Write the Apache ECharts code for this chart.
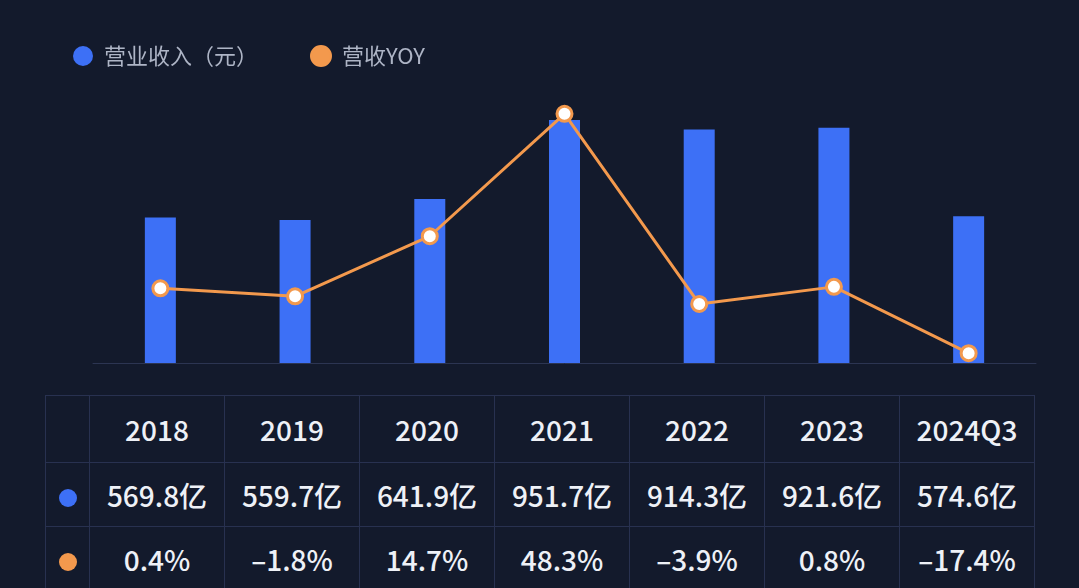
<!DOCTYPE html>
<html>
<head>
<meta charset="utf-8" />
<script src="https://cdn.jsdelivr.net/npm/echarts@6/dist/echarts.min.js"></script>
<style>
  body { margin: 0; background: #131a2c; width: 1079px; height: 588px; overflow: hidden; font-family: "Noto Sans CJK SC", "Noto Sans", sans-serif; }
  #main { position: absolute; left: 0; top: 0; width: 1079px; height: 392px; }
  #tbl { position: absolute; left: 45px; top: 395px; border-collapse: collapse; color: #eef1f7; font-size: 28px; font-weight: 500; }
  #tbl td { border: 1px solid #283150; text-align: center; padding: 0; }
  .dot { display: inline-block; width: 18px; height: 18px; border-radius: 9px; }
</style>
</head>
<body>
<div id="main"></div>
<table id="tbl"></table>
<script>
var years = ['2018', '2019', '2020', '2021', '2022', '2023', '2024Q3'];
var revenue = [569.8, 559.7, 641.9, 951.7, 914.3, 921.6, 574.6];
var yoy = [0.4, -1.8, 14.7, 48.3, -3.9, 0.8, -17.4];
var blue = '#3d70f6', orange = '#f3994d';

var chart = echarts.init(document.getElementById('main'));
chart.setOption({
  backgroundColor: '#131a2c',
  legend: {
    left: 68, top: 40, itemWidth: 20, itemHeight: 20, itemGap: 52, icon: 'circle',
    textStyle: { color: '#aeb5c6', fontSize: 22, fontFamily: 'Noto Sans CJK SC', padding: [0, 0, 0, 6] },
    data: [{ name: '营业收入（元）', itemStyle: { color: blue } }, { name: '营收YOY', itemStyle: { color: orange } }]
  },
  grid: { left: 93, right: 43, top: 100, bottom: 29 },
  xAxis: {
    type: 'category', data: years,
    axisLine: { lineStyle: { color: '#2c3552' } }, axisTick: { show: false }, axisLabel: { show: false }
  },
  yAxis: [
    { type: 'value', min: 0, max: 1030, show: false, splitLine: { show: false } },
    { type: 'value', min: -20.1, max: 52.1, show: false, splitLine: { show: false } }
  ],
  series: [
    { name: '营业收入（元）', type: 'bar', data: revenue, barWidth: 31, itemStyle: { color: blue } },
    { name: '营收YOY', type: 'line', yAxisIndex: 1, data: yoy, symbol: 'circle', symbolSize: 15,
      lineStyle: { color: orange, width: 3 }, itemStyle: { color: '#fff', borderColor: orange, borderWidth: 3 } }
  ]
});

var tbl = document.getElementById('tbl');
function row(cells, h, first) {
  var tr = document.createElement('tr');
  var td0 = document.createElement('td');
  td0.style.width = '43px'; td0.style.height = h + 'px';
  td0.innerHTML = first;
  tr.appendChild(td0);
  cells.forEach(function (c) {
    var td = document.createElement('td');
    td.style.width = '134px';
    td.textContent = c;
    tr.appendChild(td);
  });
  tbl.appendChild(tr);
}
row(years, 66, '');
row(revenue.map(function (v) { return v.toFixed(1) + '亿'; }), 63, '<span class="dot" style="background:' + blue + '"></span>');
row(yoy.map(function (v) { return (v < 0 ? '\u2013' + (-v) : v) + '%'; }), 63, '<span class="dot" style="background:' + orange + '"></span>');
</script>
</body>
</html>
